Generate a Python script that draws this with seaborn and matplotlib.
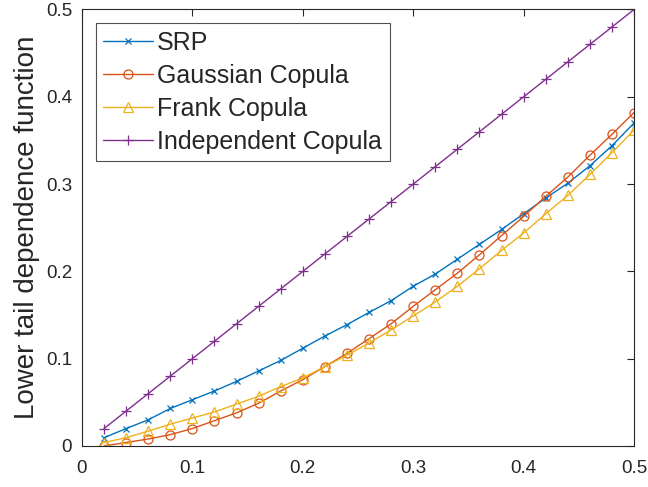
import numpy as np
import pandas as pd
import matplotlib
matplotlib.use("Agg")
import matplotlib.pyplot as plt
import seaborn as sns

x_vals = [0.02, 0.04, 0.06, 0.08, 0.10, 0.12, 0.14, 0.16, 0.18, 0.20, 0.22, 0.24, 0.26,
          0.28, 0.30, 0.32, 0.34, 0.36, 0.38, 0.40, 0.42, 0.44, 0.46, 0.48, 0.50]
srp = [0.0095, 0.020, 0.030, 0.043, 0.053, 0.063, 0.074, 0.086, 0.098, 0.112, 0.126, 0.139,
       0.153, 0.1665, 0.183, 0.197, 0.214, 0.231, 0.248, 0.266, 0.284, 0.301, 0.321, 0.344, 0.370]
gaussian = [0.0, 0.004, 0.008, 0.013, 0.020, 0.029, 0.038, 0.049, 0.063, 0.076, 0.091, 0.106,
            0.123, 0.140, 0.160, 0.179, 0.198, 0.219, 0.241, 0.263, 0.286, 0.308, 0.333, 0.357, 0.382]
frank = [0.004, 0.0095, 0.017, 0.025, 0.032, 0.039, 0.048, 0.057, 0.068, 0.078, 0.091, 0.104,
         0.118, 0.133, 0.149, 0.165, 0.183, 0.203, 0.224, 0.244, 0.266, 0.287, 0.311, 0.336, 0.362]
independent = [0.02, 0.04, 0.06, 0.08, 0.10, 0.12, 0.14, 0.16, 0.18, 0.20, 0.22, 0.24, 0.26,
               0.28, 0.30, 0.32, 0.34, 0.36, 0.38, 0.40, 0.42, 0.44, 0.46, 0.48, 0.50]

series_names = ["SRP", "Gaussian Copula", "Frank Copula", "Independent Copula"]
series_vals = [srp, gaussian, frank, independent]
colors = ["#0072BD", "#D95319", "#EDB120", "#7E2F8E"]
markers = ["x", "o", "^", "+"]
x_ticks = [0, 0.1, 0.2, 0.3, 0.4, 0.5]
y_ticks = [0, 0.1, 0.2, 0.3, 0.4, 0.5]
tick_labels = ["0", "0.1", "0.2", "0.3", "0.4", "0.5"]

sns.set_style("white")
plt.rcParams["font.family"] = ["Liberation Sans", "DejaVu Sans"]

fig = plt.figure(figsize=(6.48, 4.87), dpi=100)
ax = fig.add_axes([0.1265, 0.0842, 0.852, 0.8963])

for name, vals, c, m in zip(series_names, series_vals, colors, markers):
    df = pd.DataFrame({"x": x_vals, "y": vals})
    sns.lineplot(data=df, x="x", y="y", ax=ax, color=c, marker=m, label=name,
                 linewidth=1.0, markersize=6.5 if m != "x" else 5,
                 markerfacecolor="none", markeredgecolor=c, markeredgewidth=0.9)

ax.set_xlim(0, 0.5)
ax.set_ylim(0, 0.5)
ax.set_xticks(x_ticks)
ax.set_xticklabels(tick_labels)
ax.set_yticks(y_ticks)
ax.set_yticklabels(tick_labels)
ax.set_xlabel("")
ax.set_ylabel("Lower tail dependence function", fontsize=20, color="#262626", labelpad=4)
ax.tick_params(axis="both", direction="in", length=5, width=0.8, colors="#262626",
               labelsize=13.5, top=True, right=True)
ax.tick_params(axis="x", pad=10)
ax.tick_params(axis="y", pad=7)
for s in ax.spines.values():
    s.set_color("#262626")
    s.set_linewidth(0.8)

leg = ax.legend(loc="upper left", bbox_to_anchor=(0.0254, 0.968), borderaxespad=0,
                fontsize=18, frameon=True, fancybox=False, handlelength=2.0,
                handletextpad=0.15, labelspacing=0.36, borderpad=0.3)
leg.get_frame().set_edgecolor("#262626")
leg.get_frame().set_linewidth(0.8)

fig.savefig("out.png", dpi=100)
